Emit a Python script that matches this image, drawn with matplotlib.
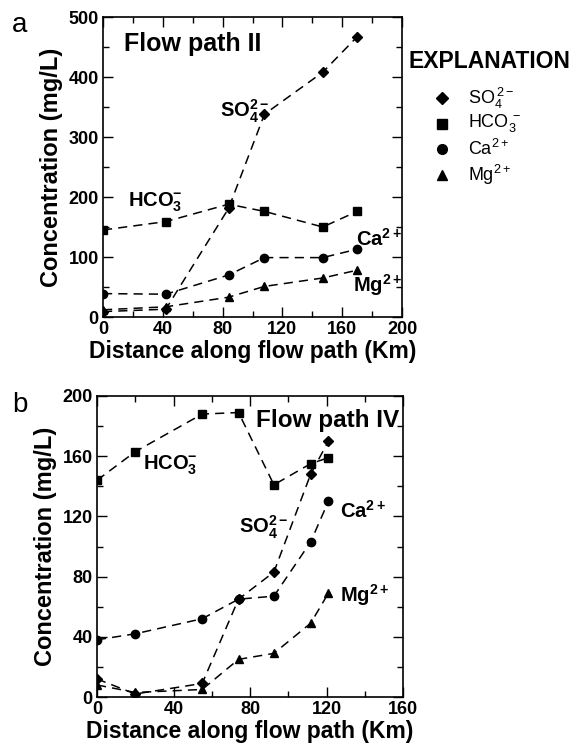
import matplotlib
matplotlib.use("Agg")
import matplotlib.pyplot as plt
from matplotlib.ticker import MultipleLocator

plt.rcParams["font.family"] = ["Liberation Sans", "DejaVu Sans"]
plt.rcParams["mathtext.fontset"] = "custom"
plt.rcParams["mathtext.rm"] = "Liberation Sans"
plt.rcParams["mathtext.bf"] = "Liberation Sans:bold"

# panel a - flow path II
dist_a = [0, 42, 84, 108, 147, 170]
so4_a = [9, 13, 181, 338, 408, 467]
hco3_a = [145, 159, 188, 176, 150, 176]
ca_a = [39, 38, 70, 99, 99, 113]
mg_a = [12, 17, 33, 51, 65, 78]

# panel b - flow path IV
dist_b = [0, 20, 55, 74, 92.5, 111.7, 121]
so4_b = [12, 2, 9, 65, 83, 148, 170]
hco3_b = [144, 163, 188, 189, 141, 155, 159]
ca_b = [38, 42, 52, 65, 67, 103, 130]
mg_b = [8, 3, 5, 25, 29, 49, 69]

W, H = 579, 748
fig = plt.figure(figsize=(W / 100, H / 100), dpi=100)
fig.patch.set_facecolor("white")

def box(l, t, r, b):
    return [l / W, 1 - b / H, (r - l) / W, (b - t) / H]

ax1 = fig.add_axes(box(103, 17, 402, 317))
ax2 = fig.add_axes(box(97, 396, 403, 697))

dash = dict(color="black", lw=1.1, ls=(0, (6, 4)))
def series(ax, x, y, m, ms):
    ax.plot(x, y, marker=m, ms=ms, mfc="black", mec="black", **dash)

for ax, x, s, h, c, m in [(ax1, dist_a, so4_a, hco3_a, ca_a, mg_a),
                          (ax2, dist_b, so4_b, hco3_b, ca_b, mg_b)]:
    series(ax, x, s, "D", 5)
    series(ax, x, h, "s", 6)
    series(ax, x, c, "o", 6)
    series(ax, x, m, "^", 5.5)

def style(ax, xmax, xmaj, xmin, ymax, ymaj, ymin):
    ax.set_xlim(0, xmax)
    ax.set_ylim(0, ymax)
    ax.xaxis.set_major_locator(MultipleLocator(xmaj))
    ax.xaxis.set_minor_locator(MultipleLocator(xmin))
    ax.yaxis.set_major_locator(MultipleLocator(ymaj))
    ax.yaxis.set_minor_locator(MultipleLocator(ymin))
    ax.tick_params(which="both", direction="in", top=True, right=True, width=1)
    ax.tick_params(which="major", length=7, labelsize=13, pad=3)
    ax.tick_params(which="minor", length=4)
    for t in ax.get_xticklabels() + ax.get_yticklabels():
        t.set_fontweight("bold")
    for sp in ax.spines.values():
        sp.set_linewidth(1.2)
    ax.set_ylabel("Concentration (mg/L)", fontsize=17, fontweight="bold", labelpad=4)
    ax.set_xlabel("Distance along flow path (Km)", fontsize=16.5, fontweight="bold", labelpad=1)

style(ax1, 200, 40, 20, 500, 100, 50)
style(ax2, 160, 40, 20, 200, 40, 20)

tk = dict(fontsize=14.5, fontweight="bold", color="black")
ax1.text(14, 455, "Flow path II", fontsize=18, fontweight="bold", va="center")
ax1.text(78, 342, r"$\mathbf{SO_4^{2-}}$", va="center", **tk)
ax1.text(17, 192, r"$\mathbf{HCO_3^{-}}$", va="center", **tk)
ax1.text(169.5, 130, r"$\mathbf{Ca^{2+}}$", ha="left", va="center", **tk)
ax1.text(167.5, 53, r"$\mathbf{Mg^{2+}}$", ha="left", va="center", **tk)

ax2.text(83, 184, "Flow path IV", fontsize=17.5, fontweight="bold", va="center")
ax2.text(24, 154, r"$\mathbf{HCO_3^{-}}$", va="center", **tk)
ax2.text(74, 113, r"$\mathbf{SO_4^{2-}}$", va="center", **tk)
ax2.text(127, 124, r"$\mathbf{Ca^{2+}}$", va="center", **tk)
ax2.text(127, 68, r"$\mathbf{Mg^{2+}}$", va="center", **tk)

fig.text(12 / W, 1 - 25 / H, "a", fontsize=20, va="center")
fig.text(12 / W, 1 - 405 / H, "b", fontsize=20, va="center")

# explanation legend
fig.text(409 / W, 1 - 62 / H, "EXPLANATION", fontsize=16.5, fontweight="bold", va="center")
leg_items = [("D", r"$\mathrm{SO_4^{\,2-}}$", 6), ("s", r"$\mathrm{HCO_3^{\,-}}$", 6.5),
             ("o", r"$\mathrm{Ca^{2+}}$", 7), ("^", r"$\mathrm{Mg^{2+}}$", 7)]
for i, (mk, lbl, ms) in enumerate(leg_items):
    y = 1 - (98 + 25.5 * i) / H
    fig.add_artist(plt.Line2D([442 / W], [y], marker=mk, ms=ms, color="black",
                              transform=fig.transFigure))
    fig.text(468 / W, y, lbl, fontsize=13, va="center")

fig.savefig("out.png", dpi=100, facecolor="white")
